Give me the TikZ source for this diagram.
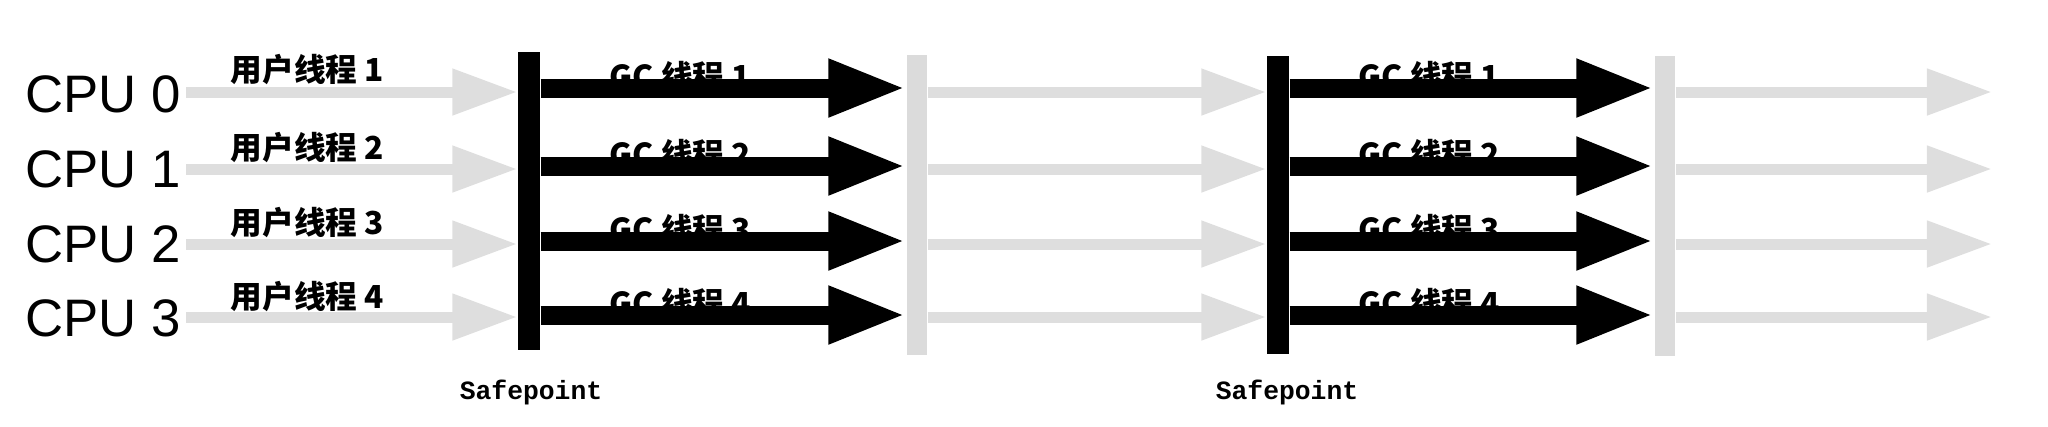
\documentclass[tikz,border=0pt]{standalone}
\usepackage{fontspec}
\setmainfont{Liberation Sans}
\newfontfamily\cjkfont{Noto Sans CJK SC}
\newfontfamily\spfont{Liberation Mono}
\usetikzlibrary{arrows.meta}
\tikzstyle{cpu} = [anchor=west, inner sep=0pt, font=\fontsize{15}{18}\selectfont]
\tikzstyle{thread} = [anchor=base west, inner sep=0pt, font=\cjkfont\bfseries\fontsize{9}{11}\selectfont]
\tikzstyle{spbar} = [fill=black, inner sep=0pt, minimum width=2.2mm, minimum height=29.8mm]
\tikzstyle{donebar} = [fill=black!14, inner sep=0pt, minimum width=2mm, minimum height=30mm]
\tikzstyle{splabel} = [inner sep=0pt, font=\spfont\bfseries\fontsize{7.5}{9}\selectfont]
\tikzstyle{gcarrow} = [line width=1.9mm, -{Triangle[length=7.8mm, width=5.3mm]}]
\tikzstyle{runarrow} = [draw=black!13, line width=1.1mm, -{Triangle[length=6.5mm, width=4.4mm]}]

\begin{document}
\begin{tikzpicture}[x=0.01cm, y=-0.01cm]
				\useasboundingbox (0,0) rectangle (2048,426);
				% rows
				\coordinate (row0) at (0,88);
				\coordinate (row1) at (0,166);
				\coordinate (row2) at (0,241);
				\coordinate (row3) at (0,315);
				\coordinate (run0) at (186,92);
				\coordinate (run1) at (186,169);
				\coordinate (run2) at (186,244);
				\coordinate (run3) at (186,317);
				% bars
				\node (sp1) [spbar] at (529,201) {};
				\node (sp2) [spbar] at (1278,205) {};
				\node (gb1) [donebar] at (917,205) {};
				\node (gb2) [donebar] at (1665,206) {};
				\coordinate (end0) at (1992,92);
				\coordinate (end1) at (1992,169);
				\coordinate (end2) at (1992,244);
				\coordinate (end3) at (1992,317);
				% labels
				\node (cpu0) [cpu] at (25,94) {CPU 0};
				\node (cpu1) [cpu] at (25,169) {CPU 1};
				\node (cpu2) [cpu] at (25,244) {CPU 2};
				\node (cpu3) [cpu] at (25,318) {CPU 3};
				\node (usr0) [thread] at (230,81) {用户线程 1};
				\node (usr1) [thread] at (230,159) {用户线程 2};
				\node (usr2) [thread] at (230,234) {用户线程 3};
				\node (usr3) [thread] at (230,308) {用户线程 4};
				\node (gca0) [thread] at (609,88) {GC 线程 1};
				\node (gca1) [thread] at (609,166) {GC 线程 2};
				\node (gca2) [thread] at (609,241) {GC 线程 3};
				\node (gca3) [thread] at (609,315) {GC 线程 4};
				\node (gcb0) [thread] at (1358,88) {GC 线程 1};
				\node (gcb1) [thread] at (1358,166) {GC 线程 2};
				\node (gcb2) [thread] at (1358,241) {GC 线程 3};
				\node (gcb3) [thread] at (1358,315) {GC 线程 4};
				\node (spl1) [splabel] at (531,392) {Safepoint};
				\node (spl2) [splabel] at (1287,392) {Safepoint};
				% user threads
				\draw [runarrow] (run0) -- (run0 -| sp1.west);
				\draw [runarrow] (run1) -- (run1 -| sp1.west);
				\draw [runarrow] (run2) -- (run2 -| sp1.west);
				\draw [runarrow] (run3) -- (run3 -| sp1.west);
				\draw [runarrow] (run0 -| gb1.east) -- (run0 -| sp2.west);
				\draw [runarrow] (run1 -| gb1.east) -- (run1 -| sp2.west);
				\draw [runarrow] (run2 -| gb1.east) -- (run2 -| sp2.west);
				\draw [runarrow] (run3 -| gb1.east) -- (run3 -| sp2.west);
				\draw [runarrow] (end0 -| gb2.east) -- (end0);
				\draw [runarrow] (end1 -| gb2.east) -- (end1);
				\draw [runarrow] (end2 -| gb2.east) -- (end2);
				\draw [runarrow] (end3 -| gb2.east) -- (end3);
				% gc threads
				\draw [gcarrow] (row0 -| sp1.east) -- (row0 -| gb1.west);
				\draw [gcarrow] (row1 -| sp1.east) -- (row1 -| gb1.west);
				\draw [gcarrow] (row2 -| sp1.east) -- (row2 -| gb1.west);
				\draw [gcarrow] (row3 -| sp1.east) -- (row3 -| gb1.west);
				\draw [gcarrow] (row0 -| sp2.east) -- (row0 -| gb2.west);
				\draw [gcarrow] (row1 -| sp2.east) -- (row1 -| gb2.west);
				\draw [gcarrow] (row2 -| sp2.east) -- (row2 -| gb2.west);
				\draw [gcarrow] (row3 -| sp2.east) -- (row3 -| gb2.west);
			\end{tikzpicture}
\end{document}
